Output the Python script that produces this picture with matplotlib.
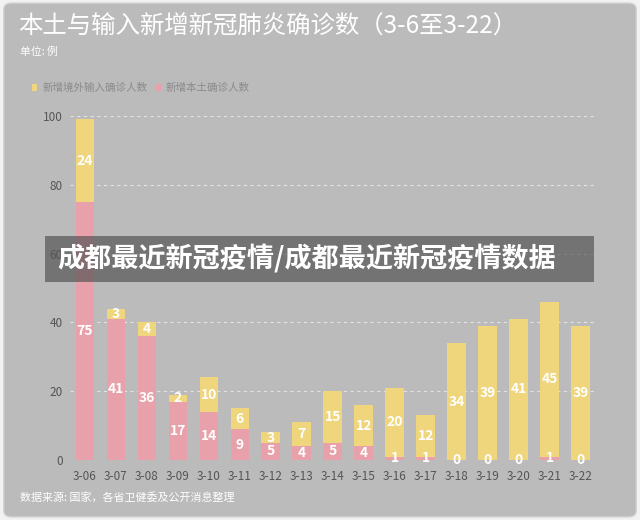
import matplotlib
matplotlib.use('Agg')
import matplotlib.pyplot as plt
from matplotlib.patches import FancyBboxPatch, Rectangle
import numpy as np

plt.rcParams['font.family'] = ['Noto Sans CJK SC', 'DejaVu Sans']

# data
dates = ['3-06', '3-07', '3-08', '3-09', '3-10', '3-11', '3-12', '3-13', '3-14',
         '3-15', '3-16', '3-17', '3-18', '3-19', '3-20', '3-21', '3-22']
local_cases = [75, 41, 36, 17, 14, 9, 5, 4, 5, 4, 1, 1, 0, 0, 0, 1, 0]
imported_cases = [24, 3, 4, 2, 10, 6, 3, 7, 15, 12, 20, 12, 34, 39, 41, 45, 39]
yticks = [0, 20, 40, 60, 80, 100]

yellow = '#efd57b'
pink = '#e8a1aa'
bg = '#bbbbbb'

fig = plt.figure(figsize=(6.4, 5.2), dpi=100)
fig.patch.set_facecolor('#f2f2f2')

# rounded grey card behind everything
card = FancyBboxPatch((0.006, 0.006), 0.988, 0.988, boxstyle='round,pad=0,rounding_size=0.012',
                      transform=fig.transFigure, facecolor=bg, edgecolor='#d0d0d0',
                      linewidth=1, zorder=-10)
fig.patches.append(card)

ax = fig.add_axes([0.1086, 0.1154, 0.8225, 0.6615])
ax.set_facecolor('none')

x = np.arange(len(dates))
ax.bar(x, local_cases, width=0.6, color=pink, zorder=2)
ax.bar(x, imported_cases, width=0.6, bottom=local_cases, color=yellow, zorder=2)

# value labels in the middle of each segment
for i in range(len(dates)):
    ax.text(x[i], local_cases[i] / 2, str(local_cases[i]), ha='center', va='center',
            color='white', fontsize=10, fontweight='bold', zorder=3)
    ax.text(x[i], local_cases[i] + imported_cases[i] / 2, str(imported_cases[i]),
            ha='center', va='center', color='white', fontsize=10,
            fontweight='bold', zorder=3)

ax.set_xlim(-0.5, len(dates) - 0.5)
ax.set_ylim(0, 100)
ax.set_yticks(yticks)
ax.set_xticks(x)
ax.set_xticklabels(dates)
ax.tick_params(length=0, colors='#555555', labelsize=8.5)
ax.tick_params(axis='x', pad=7)
ax.tick_params(axis='y', pad=5)
for y in yticks[1:]:
    ax.axhline(y, color='#e2e2e2', linestyle=(0, (3, 3)), linewidth=0.8, zorder=1)
for s in ax.spines.values():
    s.set_visible(False)

# titles, legend and footer
fig.text(0.028, 0.948, '本土与输入新增新冠肺炎确诊数（3-6至3-22）', color='white',
         fontsize=17.6, va='center')
fig.text(0.031, 0.900, '单位: 例', color='white', fontsize=7.8, va='center')

fig.patches.append(Rectangle((0.050, 0.825), 0.008, 0.013, transform=fig.transFigure,
                             facecolor=yellow, edgecolor='none'))
fig.text(0.067, 0.831, '新增境外输入确诊人数', color='#8a8a8a', fontsize=7.6, va='center')
fig.patches.append(Rectangle((0.244, 0.825), 0.008, 0.013, transform=fig.transFigure,
                             facecolor=pink, edgecolor='none'))
fig.text(0.259, 0.831, '新增本土确诊人数', color='#8a8a8a', fontsize=7.6, va='center')

fig.text(0.031, 0.043, '数据来源: 国家，各省卫健委及公开消息整理', color='white',
         fontsize=7.9, va='center')

# dark overlay banner
fig.patches.append(Rectangle((0.070, 0.457), 0.858, 0.090, transform=fig.transFigure,
                             facecolor='#555555', alpha=0.7, edgecolor='none', zorder=5))
fig.text(0.089, 0.503, '成都最近新冠疫情/成都最近新冠疫情数据', color='white',
         fontsize=19.5, fontweight='black', va='center', zorder=6)

fig.savefig('out.png', dpi=100, facecolor=fig.get_facecolor())
